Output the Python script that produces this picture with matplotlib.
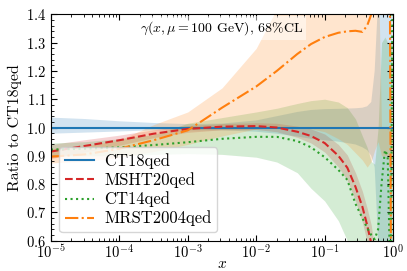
import numpy as np
import matplotlib
matplotlib.use('Agg')
import matplotlib.pyplot as plt
from matplotlib.ticker import MultipleLocator

plt.rcParams['font.family'] = 'serif'
plt.rcParams['font.serif'] = ['cmr10']
plt.rcParams['mathtext.fontset'] = 'cm'
plt.rcParams['axes.formatter.use_mathtext'] = True

# log10(x) nodes
logx = [-5, -4.5, -4, -3.5, -3, -2.5, -2, -1.7, -1.4, -1.2, -1.0, -0.8, -0.67,
        -0.55, -0.45, -0.38, -0.32, -0.27, -0.22, -0.17, -0.12, -0.08, -0.05,
        -0.03, -0.01]

# CT18qed (reference)
ct18 = [1.0] * 25
ct18_hi = [1.035, 1.03, 1.022, 1.016, 1.012, 1.014, 1.025, 1.04, 1.055, 1.062,
           1.065, 1.066, 1.067, 1.068, 1.07, 1.075, 1.09, 1.2, 1.45, 1.7, 1.7,
           1.7, 1.7, 1.7, 1.7]
ct18_lo = [0.978, 0.982, 0.986, 0.99, 0.99, 0.99, 0.985, 0.978, 0.968, 0.96,
           0.955, 0.95, 0.945, 0.94, 0.93, 0.92, 0.9, 0.86, 0.6, 0.5, 0.5, 0.5,
           0.5, 0.5, 0.5]

# MSHT20qed
msht = [0.915, 0.935, 0.955, 0.978, 0.995, 1.003, 1.005, 1.0, 0.985, 0.97,
        0.945, 0.9, 0.858, 0.79, 0.72, 0.655, 0.59, 0.5, 0.4, 0.4, 0.4, 0.4,
        0.4, 0.4, 0.4]
msht_hi = [0.94, 0.957, 0.973, 0.992, 1.007, 1.014, 1.017, 1.015, 1.005, 0.995,
           0.977, 0.94, 0.903, 0.84, 0.775, 0.715, 0.655, 0.57, 0.47, 0.4, 0.4,
           0.4, 0.4, 0.4, 0.4]
msht_lo = [0.89, 0.913, 0.937, 0.964, 0.983, 0.992, 0.993, 0.985, 0.965, 0.945,
           0.913, 0.86, 0.813, 0.74, 0.665, 0.595, 0.525, 0.43, 0.4, 0.4, 0.4,
           0.4, 0.4, 0.4, 0.4]

# CT14qed
ct14 = [0.922, 0.925, 0.93, 0.938, 0.948, 0.96, 0.967, 0.967, 0.952, 0.93,
        0.895, 0.85, 0.815, 0.73, 0.68, 0.645, 0.62, 0.605, 0.64, 0.8, 0.92,
        0.9, 0.55, 0.6, 1.5]
ct14_hi = [0.945, 0.95, 0.96, 0.975, 1.015, 1.035, 1.055, 1.068, 1.085, 1.095,
           1.1, 1.09, 1.07, 1.03, 0.97, 0.93, 0.88, 0.87, 1.0, 1.3, 1.32, 1.3,
           1.3, 1.3, 1.3]
ct14_lo = [0.9, 0.9, 0.9, 0.905, 0.908, 0.905, 0.895, 0.878, 0.84, 0.785,
           0.74, 0.67, 0.6, 0.52, 0.45, 0.4, 0.4, 0.4, 0.4, 0.4, 0.4, 0.4, 0.4,
           0.4, 0.4]

# MRST2004qed
mrst = [0.897, 0.905, 0.925, 0.955, 0.99, 1.07, 1.145, 1.2, 1.26, 1.295,
        1.32, 1.335, 1.34, 1.342, 1.338, 1.36, 1.4, 1.5, 1.6, 1.6, 1.6, 1.6,
        1.6, 0.4, 0.4]
mrst_hi = [0.925, 0.935, 0.955, 1.01, 1.055, 1.14, 1.28, 1.42, 1.6, 1.6, 1.6,
           1.6, 1.6, 1.6, 1.6, 1.6, 1.6, 1.6, 1.6, 1.0, 1.0, 1.0, 1.0, 1.0, 1.0]
mrst_lo = [0.875, 0.88, 0.895, 0.915, 0.94, 0.97, 0.995, 1.0, 1.0, 0.995,
           0.985, 0.96, 0.94, 0.91, 0.885, 0.86, 0.88, 0.92, 0.95, 0.9, 0.9,
           0.9, 0.9, 0.9, 0.9]

x = 10.0 ** np.array(logx)

fig = plt.figure(figsize=(4.07, 2.71), dpi=100)
ax = fig.add_axes([0.125, 0.112, 0.841, 0.835])

series = [
    ('CT18qed', ct18, ct18_lo, ct18_hi, '#1f77b4', '-'),
    ('MSHT20qed', msht, msht_lo, msht_hi, '#d62728', '--'),
    ('CT14qed', ct14, ct14_lo, ct14_hi, '#2ca02c', ':'),
    ('MRST2004qed', mrst, mrst_lo, mrst_hi, '#ff7f0e', '-.'),
]
for name, c, lo, hi, col, ls in series:
    ax.fill_between(x, lo, hi, color=col, alpha=0.2, lw=0)
for name, c, lo, hi, col, ls in series:
    ax.plot(x, c, color=col, ls=ls, lw=1.5, label=name)

ax.set_xscale('log')
ax.set_xlim(1e-5, 1)
ax.set_ylim(0.6, 1.4)
ax.yaxis.set_major_locator(MultipleLocator(0.1))
ax.yaxis.set_minor_locator(MultipleLocator(0.02))
ax.tick_params(which='both', direction='in', top=True, right=True, labelsize=10.5)
ax.tick_params(which='major', length=4)
ax.tick_params(which='minor', length=2)
ax.tick_params(axis='x', pad=2)

ax.set_xlabel(r'$x$', fontsize=11)
ax.xaxis.set_label_coords(0.5, -0.075)
ax.set_ylabel('Ratio to CT18qed', fontsize=11.5, labelpad=3)

ax.text(0.5, 0.94, r'$\gamma(x,\mu=100$ GeV$)$, 68%CL', transform=ax.transAxes,
        ha='center', va='center', fontsize=10,
        bbox=dict(facecolor='white', edgecolor='none', alpha=0.5, pad=2))

ax.legend(loc='lower left', fontsize=12, labelspacing=0.2, handlelength=1.75,
          handletextpad=0.6, borderpad=0.35)

fig.savefig('out.png', dpi=100)
